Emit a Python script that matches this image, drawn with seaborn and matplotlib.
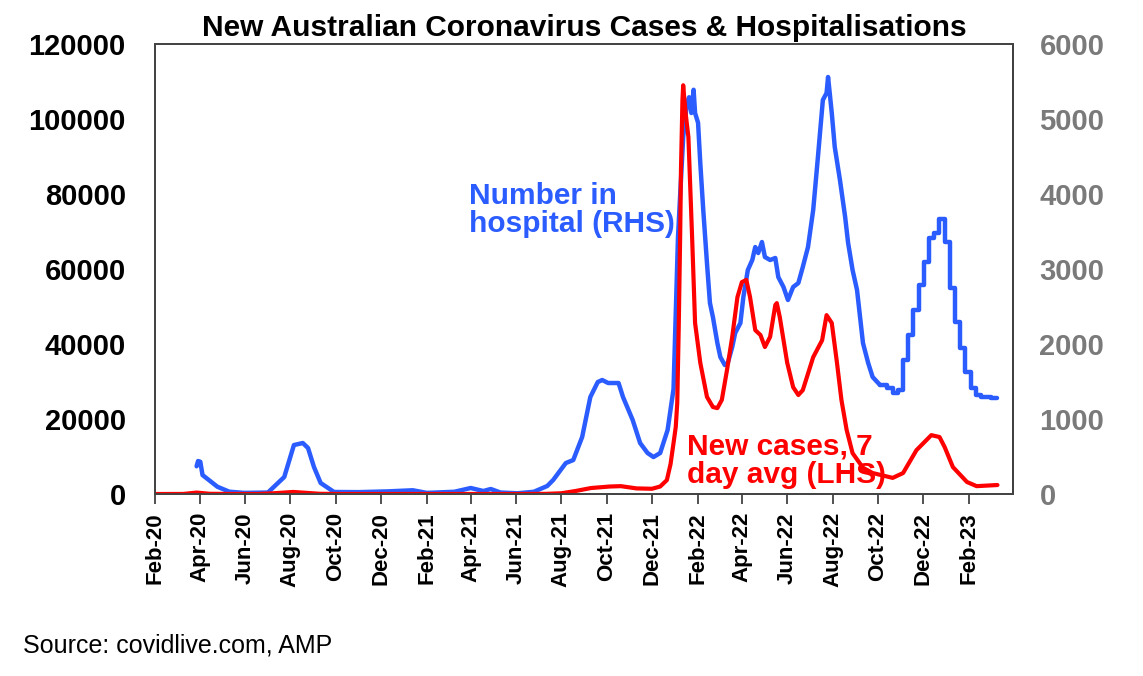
import matplotlib
matplotlib.use("Agg")
import matplotlib.pyplot as plt
import seaborn as sns
import pandas as pd

# ---- Data ----
hosp_dates = [
    "2020-03-28", "2020-03-30", "2020-04-02", "2020-04-05", "2020-04-25", "2020-05-11",
    "2020-05-31", "2020-07-02", "2020-07-24", "2020-08-06", "2020-08-18", "2020-08-25",
    "2020-09-02", "2020-09-11", "2020-09-29", "2020-11-01", "2020-12-10", "2021-01-13",
    "2021-02-01", "2021-03-10", "2021-04-01", "2021-04-18", "2021-04-28", "2021-05-11",
    "2021-06-03", "2021-06-25", "2021-07-13", "2021-07-21", "2021-08-07", "2021-08-17",
    "2021-08-29", "2021-09-09", "2021-09-19", "2021-09-25", "2021-10-03", "2021-10-17",
    "2021-10-23", "2021-11-05", "2021-11-15", "2021-11-25", "2021-12-03", "2021-12-12",
    "2021-12-22", "2021-12-30", "2022-01-05", "2022-01-12", "2022-01-17", "2022-01-20",
    "2022-01-23", "2022-01-26", "2022-01-28", "2022-02-01", "2022-02-04", "2022-02-08",
    "2022-02-13", "2022-02-17", "2022-02-21", "2022-02-27", "2022-03-03", "2022-03-09",
    "2022-03-13", "2022-03-19", "2022-03-23", "2022-03-30", "2022-04-03", "2022-04-09",
    "2022-04-15", "2022-04-19", "2022-04-23", "2022-04-28", "2022-05-02", "2022-05-09",
    "2022-05-16", "2022-05-20", "2022-05-27", "2022-06-02", "2022-06-09", "2022-06-16",
    "2022-06-22", "2022-06-29", "2022-07-06", "2022-07-12", "2022-07-19", "2022-07-24",
    "2022-07-26", "2022-07-31", "2022-08-04", "2022-08-11", "2022-08-18", "2022-08-22",
    "2022-08-28", "2022-09-03", "2022-09-11", "2022-09-18", "2022-09-24", "2022-10-04",
]
hosp_values = [
    370, 440, 430, 253, 97, 31,
    15, 20, 227, 653, 680, 613,
    360, 147, 27, 25, 35, 50,
    15, 30, 80, 40, 67, 20,
    10, 30, 107, 187, 413, 453,
    760, 1293, 1493, 1520, 1480, 1480,
    1293, 987, 680, 547, 493, 547,
    853, 1400, 3427, 4760, 5210, 5290,
    5080, 5390, 5080, 4950, 4413, 3787,
    3080, 2547, 2360, 2013, 1827, 1720,
    1747, 1960, 2147, 2280, 2627, 2987,
    3120, 3293, 3213, 3360, 3160, 3120,
    3147, 2893, 2760, 2587, 2760, 2813,
    3027, 3293, 3787, 4453, 5253, 5347,
    5560, 5080, 4627, 4187, 3693, 3347,
    2987, 2720, 2013, 1747, 1560, 1453,
]
# weekly-reported hospital numbers (stepped)
hosp_weekly_dates = [
    "2022-10-04", "2022-10-14", "2022-10-21", "2022-10-28", "2022-11-04", "2022-11-11",
    "2022-11-18", "2022-11-25", "2022-12-02", "2022-12-09", "2022-12-16", "2022-12-23",
    "2022-12-30", "2023-01-06", "2023-01-13", "2023-01-20", "2023-01-27", "2023-02-03",
    "2023-02-10", "2023-02-17", "2023-02-24", "2023-03-03", "2023-03-11",
]
hosp_weekly_values = [
    1453, 1413, 1347, 1387, 1787, 2120,
    2453, 2787, 3093, 3413, 3480, 3667,
    3360, 2747, 2293, 1947, 1627, 1413,
    1320, 1290, 1290, 1280, 1280,
]

case_dates = [
    "2020-02-01", "2020-03-10", "2020-03-28", "2020-04-15", "2020-05-15", "2020-06-20",
    "2020-07-10", "2020-08-05", "2020-08-20", "2020-09-10", "2020-10-10", "2020-12-25",
    "2021-06-01", "2021-07-10", "2021-08-01", "2021-08-20", "2021-09-10", "2021-10-05",
    "2021-10-20", "2021-11-10", "2021-12-01", "2021-12-12", "2021-12-21", "2021-12-26",
    "2021-12-30", "2022-01-02", "2022-01-04", "2022-01-06", "2022-01-08", "2022-01-09",
    "2022-01-11", "2022-01-12", "2022-01-15", "2022-01-19", "2022-01-24", "2022-01-28",
    "2022-02-04", "2022-02-13", "2022-02-21", "2022-02-27", "2022-03-05", "2022-03-12",
    "2022-03-19", "2022-03-26", "2022-04-01", "2022-04-07", "2022-04-12", "2022-04-19",
    "2022-04-26", "2022-05-02", "2022-05-09", "2022-05-16", "2022-05-18", "2022-05-22",
    "2022-06-01", "2022-06-09", "2022-06-16", "2022-06-22", "2022-07-06", "2022-07-18",
    "2022-07-24", "2022-07-31", "2022-08-07", "2022-08-13", "2022-08-20", "2022-08-28",
    "2022-09-11", "2022-09-24", "2022-10-21", "2022-11-04", "2022-11-22", "2022-12-12",
    "2022-12-23", "2022-12-30", "2023-01-10", "2023-01-29", "2023-02-11", "2023-03-11",
]
case_values = [
    0, 20, 380, 60, 15, 20,
    200, 550, 350, 60, 10, 15,
    10, 40, 200, 800, 1600, 2000,
    2100, 1500, 1400, 2000, 3700, 8000,
    13600, 17900, 24300, 44500, 70000, 86400,
    105000, 109000, 102000, 95200, 68500, 45600,
    35000, 25900, 23200, 22900, 25100, 33100,
    41900, 52500, 56500, 57100, 52500, 43700,
    42400, 39200, 41900, 50400, 50900, 47200,
    35000, 28500, 26400, 27700, 36500, 41000,
    47700, 45600, 35000, 25100, 17100, 10900,
    7000, 5600, 4300, 5600, 11700, 15700,
    15200, 12500, 7200, 3200, 2100, 2400,
]

tick_months = pd.date_range("2020-02-01", "2023-02-01", freq="2MS")
tick_labels = [d.strftime("%b-%y") for d in tick_months]

hosp = pd.DataFrame({"date": pd.to_datetime(hosp_dates), "value": hosp_values})
hosp_w = pd.DataFrame({"date": pd.to_datetime(hosp_weekly_dates), "value": hosp_weekly_values})
cases = pd.DataFrame({"date": pd.to_datetime(case_dates), "value": case_values})

BLUE = "#2b5cff"
RED = "#ff0000"
GREY = "#7a7a7a"

sns.set_theme(style="white")
plt.rcParams["font.family"] = ["Liberation Sans", "DejaVu Sans"]
plt.rcParams["text.color"] = "black"
plt.rcParams["xtick.color"] = "black"
plt.rcParams["ytick.color"] = "black"

fig = plt.figure(figsize=(11.43, 6.76), dpi=100)
ax = fig.add_axes([0.1356, 0.2692, 0.7507, 0.6657])
ax2 = ax.twinx()

sns.lineplot(data=cases, x="date", y="value", ax=ax, color=RED, lw=3.0)
sns.lineplot(data=hosp, x="date", y="value", ax=ax2, color=BLUE, lw=3.2)
sns.lineplot(data=hosp_w, x="date", y="value", ax=ax2, color=BLUE, lw=3.2,
             drawstyle="steps-post")

# draw red above blue
ax.set_zorder(ax2.get_zorder() + 1)
ax.patch.set_visible(False)

ax.set_xlim(pd.Timestamp("2020-02-01"), pd.Timestamp("2023-04-01"))
ax.set_ylim(0, 120000)
ax2.set_ylim(0, 6000)
ax.set_yticks(range(0, 120001, 20000))
ax2.set_yticks(range(0, 6001, 1000))
ax.set_xticks(tick_months)
ax.set_xticklabels(tick_labels, rotation=90, fontsize=16, fontweight="bold", color="black")
ax.tick_params(axis="x", length=7, width=1.2, color="#333333", pad=6, bottom=True)
ax.tick_params(axis="y", length=0, labelsize=21, pad=21, labelcolor="black")
ax2.tick_params(axis="y", length=0, labelsize=21, labelcolor=GREY, pad=19)
for lab in ax.get_yticklabels():
    lab.set_fontweight("bold")
for lab in ax2.get_yticklabels():
    lab.set_fontweight("bold")

ax.set_xlabel("")
ax.set_ylabel("")
ax2.set_xlabel("")
ax2.set_ylabel("")
for a in (ax, ax2):
    for s in a.spines.values():
        s.set_color("#444444")
        s.set_linewidth(1.3)
ax2.spines["right"].set_color("#111111")

fig.text(0.511, 0.958, "New Australian Coronavirus Cases & Hospitalisations",
         ha="center", va="center", fontsize=21.5, fontweight="bold", color="black")

ax.text(pd.Timestamp("2021-03-30"), 75800, "Number in\nhospital (RHS)", color=BLUE,
        fontsize=21.5, fontweight="bold", va="center", ha="left", linespacing=1.0)
ax.text(pd.Timestamp("2022-01-17"), 8900, "New cases, 7\nday avg (LHS)", color=RED,
        fontsize=21.5, fontweight="bold", va="center", ha="left", linespacing=1.0)

fig.text(0.02, 0.045, "Source: covidlive.com, AMP", fontsize=18, color="black",
         ha="left", va="center")

fig.savefig("out.png", dpi=100)
